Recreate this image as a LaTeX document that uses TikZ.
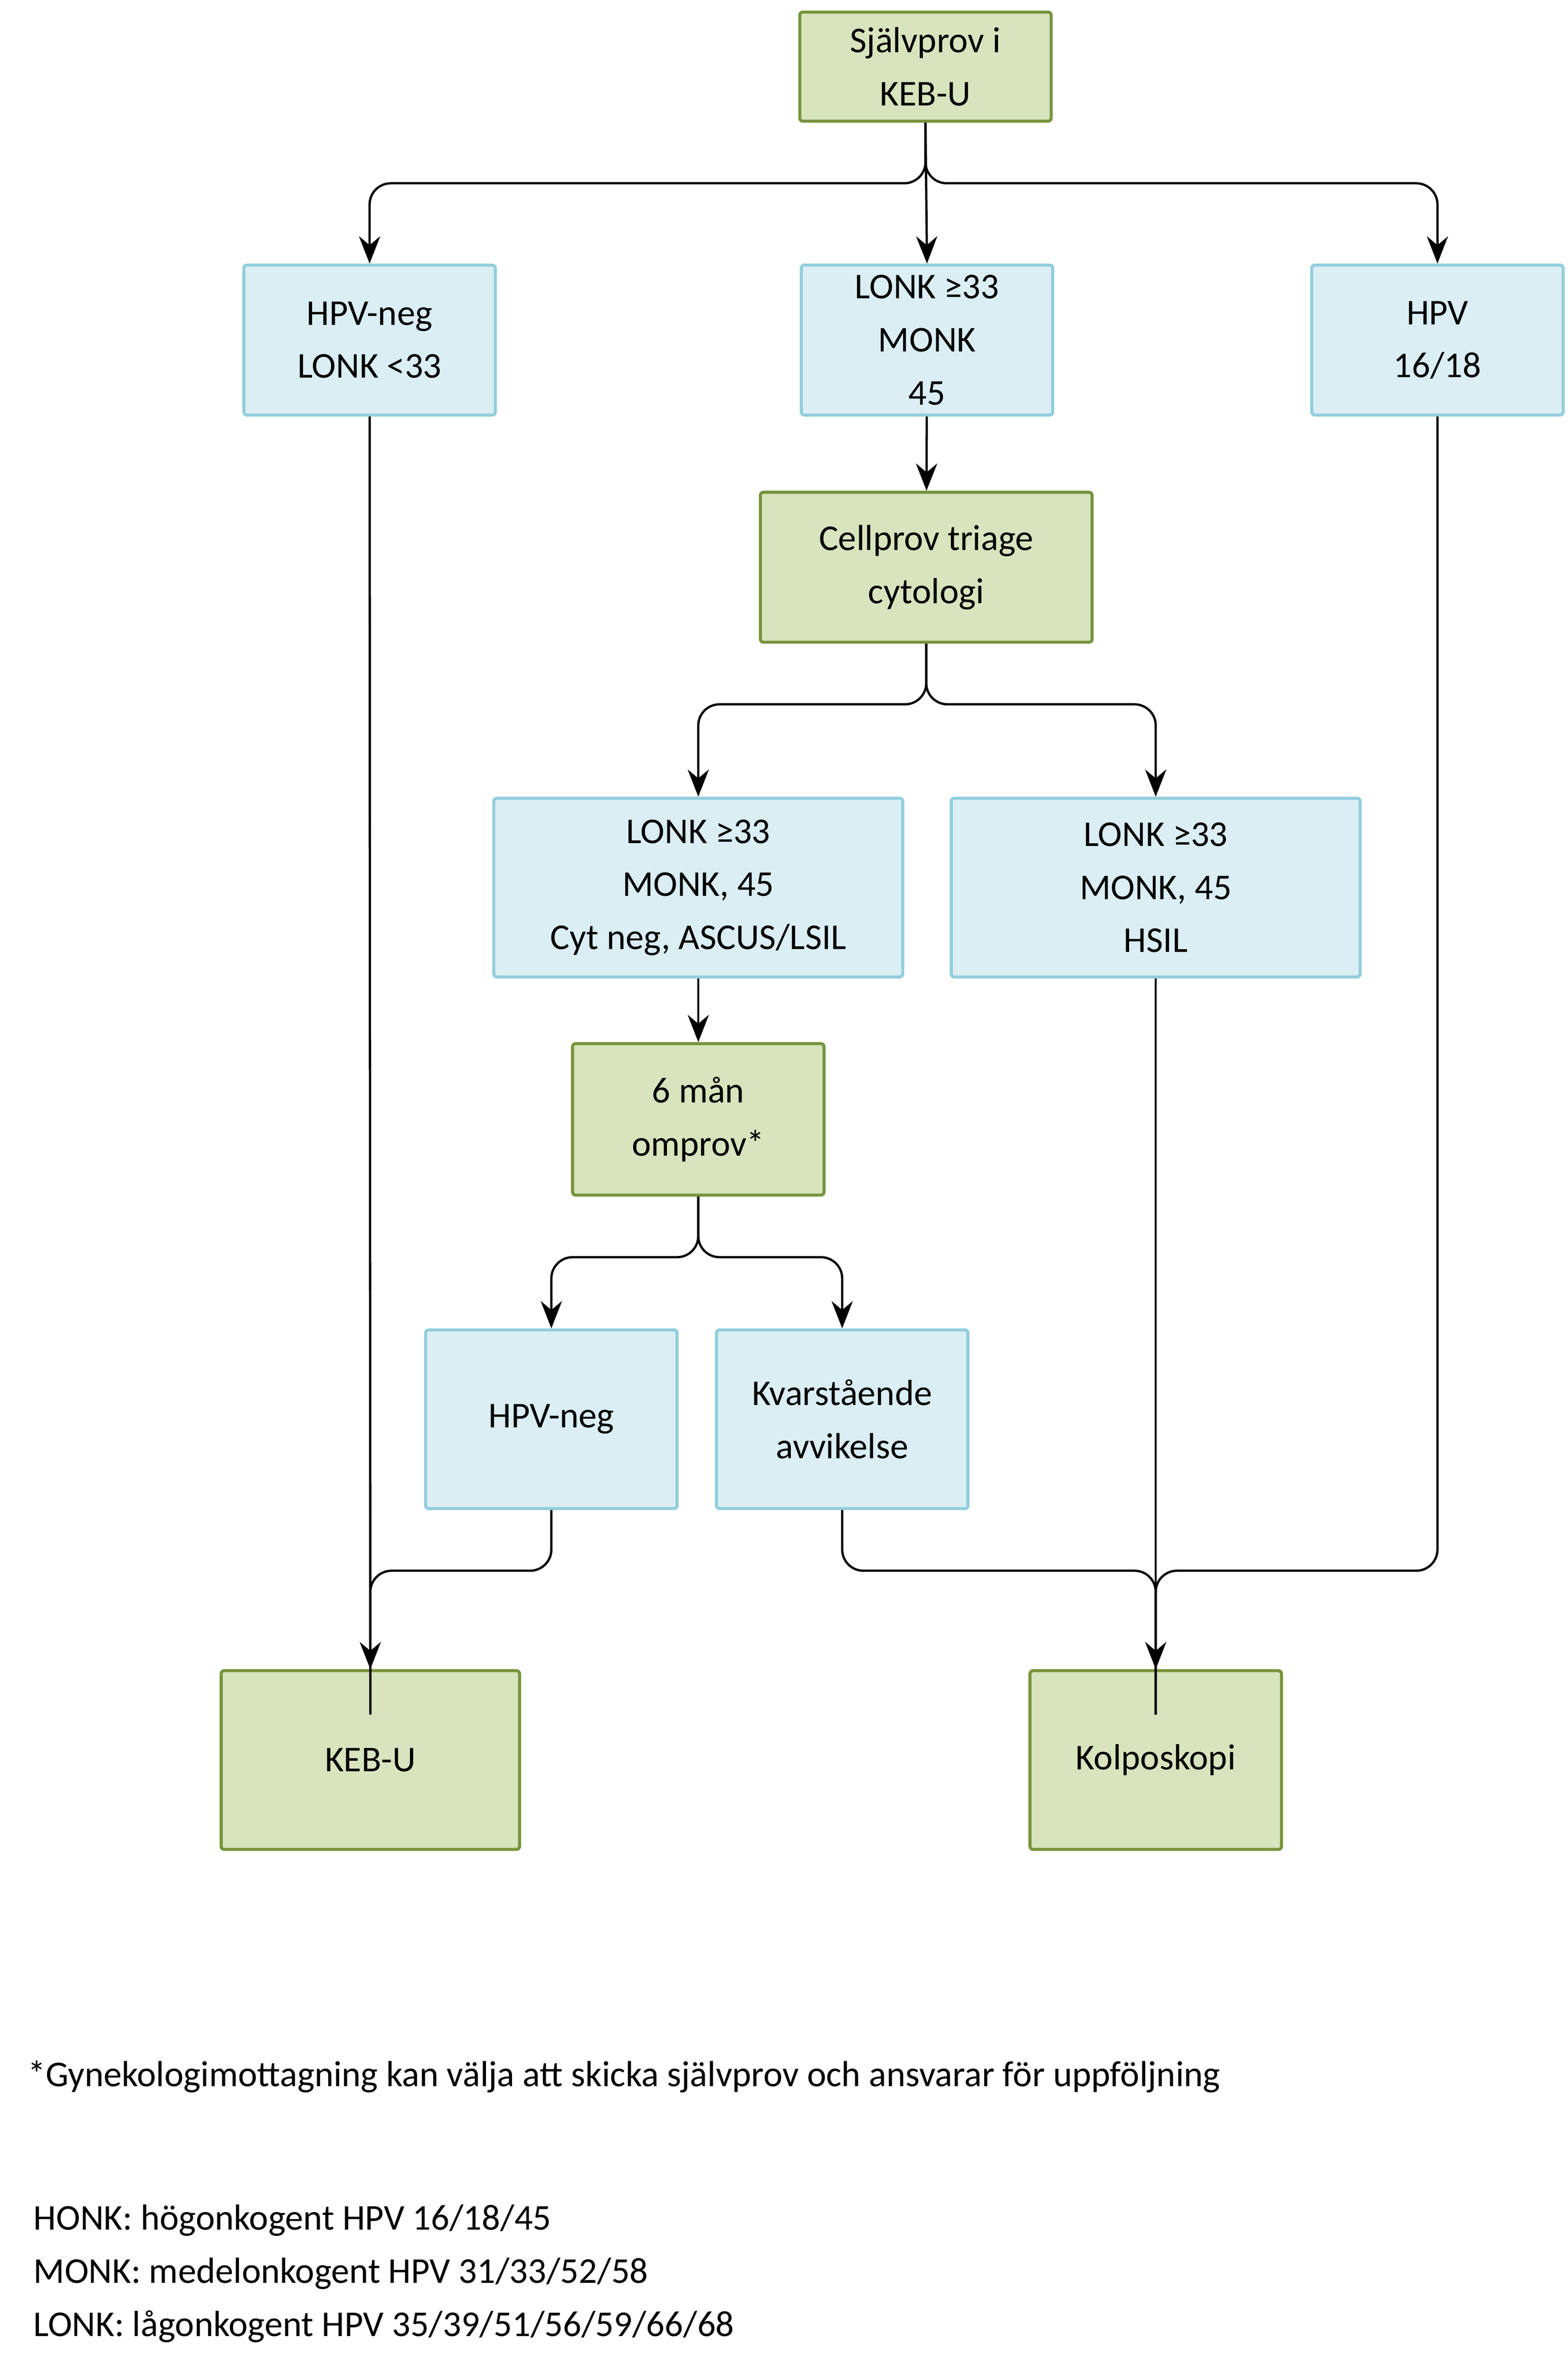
\documentclass[tikz,border=0pt]{standalone}
\usepackage{fontspec}
\setmainfont{Carlito}
\usetikzlibrary{arrows.meta}
\definecolor{grfill}{HTML}{D7E4BD}
\definecolor{grline}{HTML}{77933C}
\definecolor{blfill}{HTML}{DAEEF3}
\definecolor{blline}{HTML}{92CDDC}
\tikzstyle{stage} = [rectangle, rounded corners=2pt, align=center, draw=grline, fill=grfill, line width=2pt, font=\fontsize{24}{35}\selectfont, inner sep=0pt]
\tikzstyle{result} = [rectangle, rounded corners=2pt, align=center, draw=blline, fill=blfill, line width=2pt, font=\fontsize{24}{35}\selectfont, inner sep=0pt]
\tikzstyle{arrow} = [line width=1.5pt, rounded corners=14pt, -{Stealth[length=18pt,width=14pt]}]
\tikzstyle{line} = [line width=1.5pt, rounded corners=14pt]
\tikzstyle{note} = [anchor=west, font=\fontsize{24}{35}\selectfont, inner sep=0pt]

\begin{document}
\begin{tikzpicture}[x=1pt, y=-1pt]
		\useasboundingbox (0,0) rectangle (1035,1568);
		\node (self) [stage, minimum width=166pt, minimum height=72pt] at (611,44) {Självprov i\\KEB-U};
		\node (neg) [result, minimum width=166pt, minimum height=99pt] at (244,224.5) {HPV-neg\\LONK <33};
		\node (lonk) [result, minimum width=166pt, minimum height=99pt] at (612,224.5) {LONK ≥33\\MONK\\45};
		\node (hpv) [result, minimum width=166pt, minimum height=99pt] at (949,224.5) {HPV\\16/18};
		\node (cell) [stage, minimum width=219pt, minimum height=99pt] at (611.5,374.5) {Cellprov triage\\cytologi};
		\node (low) [result, minimum width=270pt, minimum height=118pt] at (461,586) {LONK ≥33\\MONK, 45\\Cyt neg, ASCUS/LSIL};
		\node (high) [result, minimum width=270pt, minimum height=118pt] at (763,586) {LONK ≥33\\MONK, 45\\HSIL};
		\node (redo) [stage, minimum width=166pt, minimum height=100pt] at (461,739) {6 mån\\omprov*};
		\node (neg2) [result, minimum width=166pt, minimum height=118pt] at (364,937) {HPV-neg};
		\node (rest) [result, minimum width=166pt, minimum height=118pt] at (556,937) {Kvarstående\\avvikelse};
		\node (keb) [stage, minimum width=197pt, minimum height=118pt] at (244.5,1162) {KEB-U};
		\node (kolpo) [stage, minimum width=166pt, minimum height=118pt] at (763,1162) {Kolposkopi};

		\draw [arrow] (self.south) -- ++(0,40) -| (neg.north);
		\draw [arrow] (self.south) -- (lonk.north);
		\draw [arrow] (self.south) -- ++(0,40) -| (hpv.north);
		\draw [arrow] (lonk) -- (cell);
		\draw [arrow] (cell.south) -- ++(0,40) -| (low.north);
		\draw [arrow] (cell.south) -- ++(0,40) -| (high.north);
		\draw [arrow] (low) -- (redo);
		\draw [arrow] (redo.south) -- ++(0,40) -| (neg2.north);
		\draw [arrow] (redo.south) -- ++(0,40) -| (rest.north);
		\draw [arrow] (neg) -- (keb);
		\draw [line] (neg2.south) -- ++(0,40) -| ([yshift=-30pt]keb.north);
		\draw [arrow] (high) -- (kolpo);
		\draw [line] (rest.south) -- ++(0,40) -| ([yshift=-30pt]kolpo.north);
		\draw [line] (hpv.south) |- ++(-100,762) -| ([yshift=-30pt]kolpo.north);

		\node (star) [note] at (18,1371) {*Gynekologimottagning kan välja att skicka självprov och ansvarar för uppföljning};
		\node (honk) [note] at (22,1466) {HONK: högonkogent HPV 16/18/45};
		\node (monk) [note] at (22,1501) {MONK: medelonkogent HPV 31/33/52/58};
		\node (lonkdef) [note] at (22,1536) {LONK: lågonkogent HPV 35/39/51/56/59/66/68};
\end{tikzpicture}
\end{document}
